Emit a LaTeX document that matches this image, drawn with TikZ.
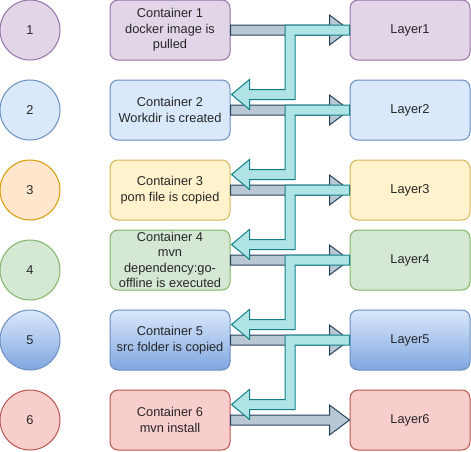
\documentclass[tikz,border=0pt]{standalone}
\usepackage{fontspec}
\setmainfont{Liberation Sans}
\usetikzlibrary{calc}
\definecolor{pfill}{HTML}{E1D5E7}\definecolor{pline}{HTML}{9673A6}
\definecolor{bfill}{HTML}{DAE8FC}\definecolor{bline}{HTML}{6C8EBF}
\definecolor{ofill}{HTML}{FFE6CC}\definecolor{oline}{HTML}{D79B00}
\definecolor{yfill}{HTML}{FFF2CC}\definecolor{yline}{HTML}{D6B656}
\definecolor{gfill}{HTML}{D5E8D4}\definecolor{gline}{HTML}{82B366}
\definecolor{b2fill}{HTML}{7EA6E0}
\definecolor{rfill}{HTML}{F8CECC}\definecolor{rline}{HTML}{B85450}
\definecolor{grayfill}{HTML}{BAC8D3}\definecolor{grayline}{HTML}{23445D}
\definecolor{tealfill}{HTML}{B0E3E6}\definecolor{tealline}{HTML}{0E8088}
\begin{document}
\begin{tikzpicture}[x=1pt,y=-1pt,
  txt/.style={font=\fontsize{12.8}{15.4}\selectfont, text=black!85},
  box/.style={txt, rectangle, rounded corners=8pt, minimum width=120pt, minimum height=60pt, inner sep=0pt, align=center, line width=1pt},
  circ/.style={txt, circle, minimum size=60pt, inner sep=0pt, line width=1pt},
  purple/.style={fill=pfill, draw=pline},
  blue/.style={fill=bfill, draw=bline},
  orange/.style={fill=ofill, draw=oline},
  yellow/.style={fill=yfill, draw=yline},
  green/.style={fill=gfill, draw=gline},
  bluegrad/.style={top color=bfill, bottom color=b2fill, draw=bline},
  red/.style={fill=rfill, draw=rline},
  grayarrow/.style={fill=grayfill, draw=grayline, line width=1pt},
  tealarrow/.style={fill=tealfill, draw=tealline, line width=1pt}]
\useasboundingbox (0,0) rectangle (471,451);
% circles
\node[circ, purple] (N1) at (30,30) {1};
\node[circ, blue] (N2) at (30,110) {2};
\node[circ, orange] (N3) at (30,190) {3};
\node[circ, green] (N4) at (30,270) {4};
\node[circ, bluegrad] (N5) at (30,340) {5};
\node[circ, red] (N6) at (30,420) {6};
% containers
\node[box, purple] (C1) at (170,30) {Container 1\\docker image is\\pulled};
\node[box, blue] (C2) at (170,110) {Container 2\\Workdir is created};
\node[box, yellow] (C3) at (170,190) {Container 3\\pom file is copied};
\node[box, green] (C4) at (170,260) {Container 4\\mvn\\dependency:go-\\offline is executed};
\node[box, bluegrad] (C5) at (170,340) {Container 5\\src folder is copied};
\node[box, red] (C6) at (170,420) {Container 6\\mvn install};
% layers
\node[box, purple] (L1) at (410,30) {Layer1};
\node[box, blue] (L2) at (410,110) {Layer2};
\node[box, yellow] (L3) at (410,190) {Layer3};
\node[box, green] (L4) at (410,260) {Layer4};
\node[box, bluegrad] (L5) at (410,340) {Layer5};
\node[box, red] (L6) at (410,420) {Layer6};
% gray arrows container -> layer
\foreach \i in {1,...,6}{
  \draw[grayarrow] let \p1=(C\i.east), \p2=(L\i.west) in
    (\x1,\y1+5pt) -- (\x2-20pt,\y1+5pt) -- (\x2-20pt,\y1+15pt) -- (\x2,\y1)
    -- (\x2-20pt,\y1-15pt) -- (\x2-20pt,\y1-5pt) -- (\x1,\y1-5pt) -- cycle;
}
% teal arrows layer -> next container
\foreach \i/\j in {1/2,2/3,3/4,4/5,5/6}{
  \draw[tealarrow] let \p1=(C\j.east), \p2=(L\i.west), \p3=(C\j.north),
      \p4=($(C\j.east)!0.5!(L\i.west)$) in
    (\x2,\y2+5pt) -- (\x4-5pt,\y2+5pt) -- (\x4-5pt,\y3-10pt) -- (\x1+19pt,\y3-10pt)
    -- (\x1+19pt,\y3) -- (\x1+1pt,\y3-15pt) -- (\x1+19pt,\y3-30pt) -- (\x1+19pt,\y3-20pt)
    -- (\x4+5pt,\y3-20pt) -- (\x4+5pt,\y2-5pt) -- (\x2,\y2-5pt) -- cycle;
}
\end{tikzpicture}
\end{document}
